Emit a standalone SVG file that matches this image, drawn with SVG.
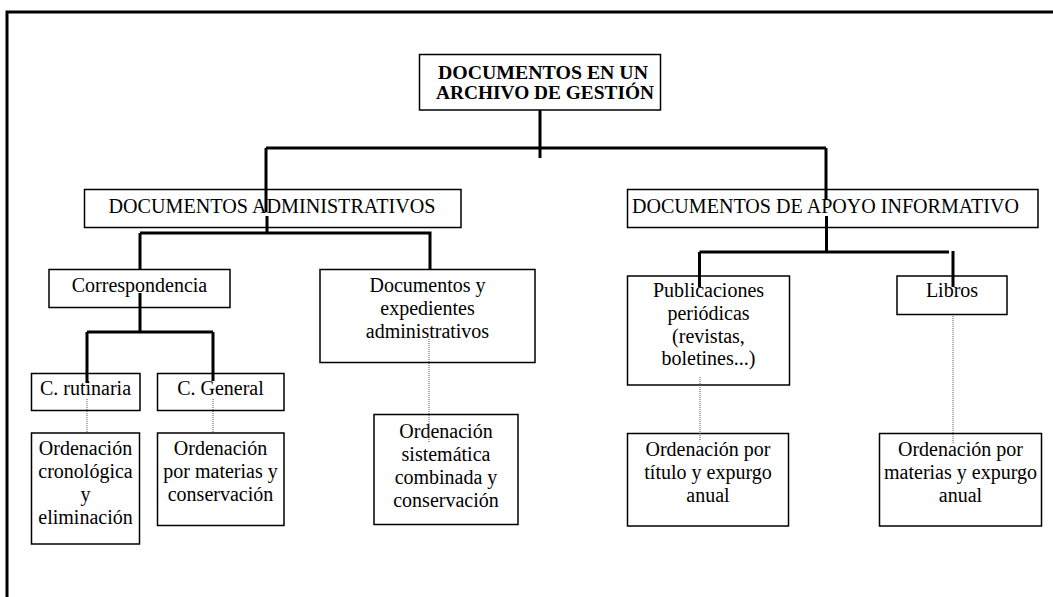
<svg xmlns="http://www.w3.org/2000/svg" width="1053" height="597" viewBox="0 0 1053 597">
<style>
.box{fill:#fff;stroke:#000;stroke-width:1.5}
.t{font-family:"Liberation Serif","Times New Roman",serif;font-size:20px;fill:#000;text-anchor:middle}
.b{font-weight:bold;font-size:18px}
.con{fill:none;stroke:#000;stroke-width:3}
.dot{fill:none;stroke:#555;stroke-width:1;stroke-dasharray:1 1}
.frame{fill:none;stroke:#000;stroke-width:3}
</style>
<rect width="1053" height="597" fill="#fff"/>
<path class="frame" d="M7,598 V12 H1054"/>
<g id="n-root"><rect class="box" x="419.5" y="54.5" width="241" height="55.5"/>
<text class="t b" x="543" y="78.5" textLength="210" lengthAdjust="spacingAndGlyphs">DOCUMENTOS EN UN</text>
<text class="t b" x="545" y="98.5" textLength="218" lengthAdjust="spacingAndGlyphs">ARCHIVO DE GESTIÓN</text></g>
<g id="n-admin"><rect class="box" x="84.5" y="189.5" width="376.5" height="38"/>
<text class="t" x="272" y="213" textLength="327" lengthAdjust="spacingAndGlyphs">DOCUMENTOS ADMINISTRATIVOS</text></g>
<g id="n-apoyo"><rect class="box" x="627.5" y="189.5" width="410.5" height="38"/>
<text class="t" x="632" y="213" style="text-anchor:start" textLength="387" lengthAdjust="spacingAndGlyphs">DOCUMENTOS DE APOYO INFORMATIVO</text></g>
<g id="n-corresp"><rect class="box" x="49" y="269.5" width="181" height="38"/>
<text class="t" x="139.5" y="292">Correspondencia</text></g>
<g id="n-docexp"><rect class="box" x="320" y="269.5" width="215" height="93"/>
<text class="t" x="427.5" y="292">Documentos y</text>
<text class="t" x="427.5" y="315">expedientes</text>
<text class="t" x="427.5" y="338">administrativos</text></g>
<g id="n-publ"><rect class="box" x="627.5" y="276" width="162" height="109"/>
<text class="t" x="708.5" y="297">Publicaciones</text>
<text class="t" x="708.5" y="320">periódicas</text>
<text class="t" x="708.5" y="342.5">(revistas,</text>
<text class="t" x="708.5" y="365">boletines...)</text></g>
<g id="n-libros"><rect class="box" x="897" y="276" width="110" height="38.5"/>
<text class="t" x="952" y="297">Libros</text></g>
<g id="n-crut"><rect class="box" x="31.5" y="373.5" width="108.5" height="37"/>
<text class="t" x="85.5" y="395">C. rutinaria</text></g>
<g id="n-cgen"><rect class="box" x="157.5" y="373.5" width="126.5" height="37"/>
<text class="t" x="220.5" y="395">C. General</text></g>
<g id="n-ord1"><rect class="box" x="31.5" y="433" width="108" height="111"/>
<text class="t" x="85.5" y="455">Ordenación</text>
<text class="t" x="85.5" y="478">cronológica</text>
<text class="t" x="85.5" y="501">y</text>
<text class="t" x="85.5" y="524">eliminación</text></g>
<g id="n-ord2"><rect class="box" x="157.5" y="433" width="126.5" height="92.5"/>
<text class="t" x="220.5" y="455">Ordenación</text>
<text class="t" x="220.5" y="478">por materias y</text>
<text class="t" x="220.5" y="501">conservación</text></g>
<g id="n-ord3"><rect class="box" x="374" y="414.5" width="144" height="110"/>
<text class="t" x="446" y="437.5">Ordenación</text>
<text class="t" x="446" y="460.5">sistemática</text>
<text class="t" x="446" y="483.5">combinada y</text>
<text class="t" x="446" y="506.5">conservación</text></g>
<g id="n-ord4"><rect class="box" x="627.5" y="433.5" width="161" height="92.5"/>
<text class="t" x="708" y="455.5">Ordenación por</text>
<text class="t" x="708" y="478.5">título y expurgo</text>
<text class="t" x="708" y="501.5">anual</text></g>
<g id="n-ord5"><rect class="box" x="879.5" y="433.5" width="162" height="92.5"/>
<text class="t" x="960.5" y="455.5">Ordenación por</text>
<text class="t" x="960.5" y="478.5">materias y expurgo</text>
<text class="t" x="960.5" y="501.5">anual</text></g>
<g id="connectors">
<path class="con" d="M540,110 V158 M266,148 H826 M266,148 V212 M826,148 V200"/>
<path class="con" d="M267,216 V233 M140,233 H429 M140,233 V270 M430,231.5 V270"/>
<path class="con" d="M140,293 V332 M87,332 H213 M87,332 V383 M213,332 V381"/>
<path class="con" d="M826.5,216 V252 M699.5,252 H949 M699.5,252 V287 M953,251 V287"/>
<path class="dot" d="M87,399 V433 M213,399 V433 M429,339 V442 M700,377 V441 M953,316 V443"/>
</g>
</svg>
